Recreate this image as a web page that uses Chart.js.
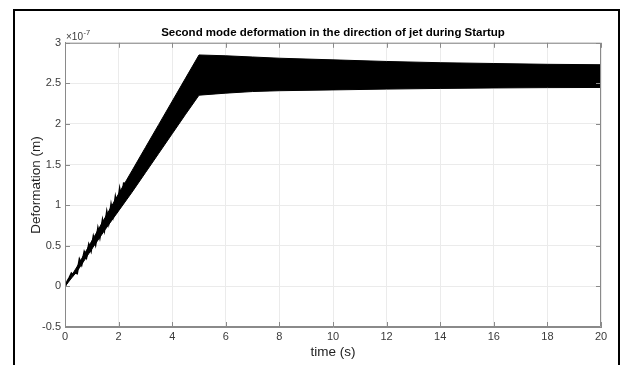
<!DOCTYPE html>
<html>
<head>
<meta charset="utf-8">
<script src="https://cdn.jsdelivr.net/npm/chart.js@4.4.1/dist/chart.umd.min.js"></script>
<style>
  html, body { margin: 0; padding: 0; background: #fff; }
  #wrap { width: 622px; height: 365px; position: relative; }
</style>
</head>
<body>
<div id="wrap"><canvas id="c" width="622" height="365"></canvas></div>
<script>
// Axis ticks
const timeTicks = [0, 2, 4, 6, 8, 10, 12, 14, 16, 18, 20];
const deformTicks = [-0.5, 0, 0.5, 1, 1.5, 2, 2.5, 3];

// Envelope of the fast second-mode oscillation (units of 1e-7 m)
const envTime  = [0, 0.5, 1, 1.5, 2, 2.5, 3, 3.5, 4, 4.5, 5, 6, 7, 8, 10, 12, 14, 16, 18, 20];
const envUpper = [0, 0.27, 0.56, 0.85, 1.14, 1.425, 1.71, 1.995, 2.28, 2.565, 2.85, 2.84, 2.825, 2.81, 2.79, 2.77, 2.755, 2.745, 2.735, 2.73];
const envLower = [0, 0.21, 0.46, 0.70, 0.93, 1.16, 1.40, 1.64, 1.88, 2.12, 2.355, 2.38, 2.40, 2.41, 2.42, 2.43, 2.438, 2.444, 2.448, 2.45];

// Individual oscillation cycles at the very start of the ramp
const startTime   = [0, 0.10, 0.17, 0.24, 0.30, 0.38, 0.45, 0.54, 0.62, 0.72, 0.80, 0.89, 0.97, 1.06, 1.14, 1.23, 1.30, 1.40, 1.47, 1.56, 1.63, 1.72, 1.79, 1.88, 1.95, 2.04, 2.11, 2.20];
const startDeform = [0, 0.07, 0.11, 0.16, 0.14, 0.17, 0.16, 0.33, 0.27, 0.42, 0.36, 0.51, 0.44, 0.61, 0.52, 0.71, 0.61, 0.81, 0.70, 0.91, 0.79, 1.00, 0.88, 1.09, 0.97, 1.19, 1.06, 1.28];

const pts = (xs, ys) => xs.map((x, i) => ({ x: x, y: ys[i] }));

const FONT = "'Liberation Sans', Arial, Helvetica, sans-serif";
const AXIS_GRAY = '#8a8a8a';
const TEXT_GRAY = '#3a3a3a';

// Axes box, inward tick marks, exponent label and outer figure frame
const matlabAxes = {
  id: 'matlabAxes',
  beforeDraw(chart) {
    const ctx = chart.ctx;
    ctx.save();
    ctx.fillStyle = '#fff';
    ctx.fillRect(0, 0, chart.width, chart.height);
    ctx.restore();
  },
  afterDraw(chart) {
    const ctx = chart.ctx;
    const a = chart.chartArea;
    const xs = chart.scales.x, ys = chart.scales.y;
    ctx.save();
    ctx.strokeStyle = AXIS_GRAY;
    ctx.lineWidth = 1;
    ctx.beginPath();
    ctx.rect(a.left + 0.5, a.top + 0.5, a.right - a.left - 1, a.bottom - a.top - 1);
    ctx.stroke();
    const tl = 5;
    ctx.beginPath();
    timeTicks.forEach(v => {
      const px = Math.round(xs.getPixelForValue(v)) + 0.5;
      ctx.moveTo(px, a.bottom); ctx.lineTo(px, a.bottom - tl);
      ctx.moveTo(px, a.top); ctx.lineTo(px, a.top + tl);
    });
    deformTicks.forEach(v => {
      const py = Math.round(ys.getPixelForValue(v)) + 0.5;
      ctx.moveTo(a.left, py); ctx.lineTo(a.left + tl, py);
      ctx.moveTo(a.right, py); ctx.lineTo(a.right - tl, py);
    });
    ctx.stroke();

    // exponent of the y axis
    ctx.fillStyle = TEXT_GRAY;
    ctx.textBaseline = 'alphabetic';
    ctx.textAlign = 'left';
    ctx.font = '10px ' + FONT;
    const base = a.top - 3;
    ctx.fillText('\u00d710', a.left + 1, base);
    const w = ctx.measureText('\u00d710').width;
    ctx.font = '7.5px ' + FONT;
    ctx.fillText('-7', a.left + 1 + w + 0.5, base - 5);

    // figure frame
    ctx.fillStyle = '#000';
    ctx.fillRect(13, 9, 2, chart.height - 9);
    ctx.fillRect(13, 9, 607, 2);
    ctx.fillRect(618, 9, 2, chart.height - 9);
    ctx.restore();
  }
};

new Chart(document.getElementById('c'), {
  type: 'line',
  data: {
    datasets: [
      {
        label: 'upper',
        data: pts(envTime, envUpper),
        borderColor: '#000',
        borderWidth: 1,
        pointRadius: 0,
        tension: 0,
        fill: false
      },
      {
        label: 'lower',
        data: pts(envTime, envLower),
        borderColor: '#000',
        borderWidth: 1,
        backgroundColor: '#000',
        pointRadius: 0,
        tension: 0,
        fill: '-1'
      },
      {
        label: 'start',
        data: pts(startTime, startDeform),
        borderColor: '#000',
        borderWidth: 2,
        pointRadius: 0,
        tension: 0,
        fill: false
      }
    ]
  },
  options: {
    responsive: false,
    animation: false,
    devicePixelRatio: 1,
    layout: { padding: { left: 0, right: 21, top: 0, bottom: 0 } },
    plugins: {
      legend: { display: false },
      tooltip: { enabled: false },
      title: {
        display: true,
        fullSize: false,
        text: 'Second mode deformation in the direction of jet during Startup',
        color: '#000',
        font: { family: FONT, size: 11.5, weight: 'bold' },
        padding: { top: 26, bottom: 3 }
      }
    },
    scales: {
      x: {
        type: 'linear',
        min: 0, max: 20,
        afterBuildTicks: s => { s.ticks = timeTicks.map(v => ({ value: v })); },
        afterFit: s => { s.height = 38; },
        ticks: { color: TEXT_GRAY, font: { family: FONT, size: 11 }, padding: 3, maxRotation: 0,
                 callback: v => String(v) },
        grid: { color: '#ebebeb', drawTicks: false },
        border: { color: AXIS_GRAY },
        title: {
          display: true, text: 'time (s)', color: '#222',
          font: { family: FONT, size: 13.5 }, padding: { top: 0, bottom: 5 }
        }
      },
      y: {
        type: 'linear',
        min: -0.5, max: 3,
        afterBuildTicks: s => { s.ticks = deformTicks.map(v => ({ value: v })); },
        afterFit: s => { s.width = 65; },
        ticks: { color: TEXT_GRAY, font: { family: FONT, size: 11 }, padding: 4,
                 callback: v => String(v) },
        grid: { color: '#ebebeb', drawTicks: false },
        border: { color: AXIS_GRAY },
        title: {
          display: true, text: 'Deformation (m)', color: '#222',
          font: { family: FONT, size: 13.5 }, padding: { top: 28, bottom: 0 }
        }
      }
    }
  },
  plugins: [matlabAxes]
});
</script>
</body>
</html>
